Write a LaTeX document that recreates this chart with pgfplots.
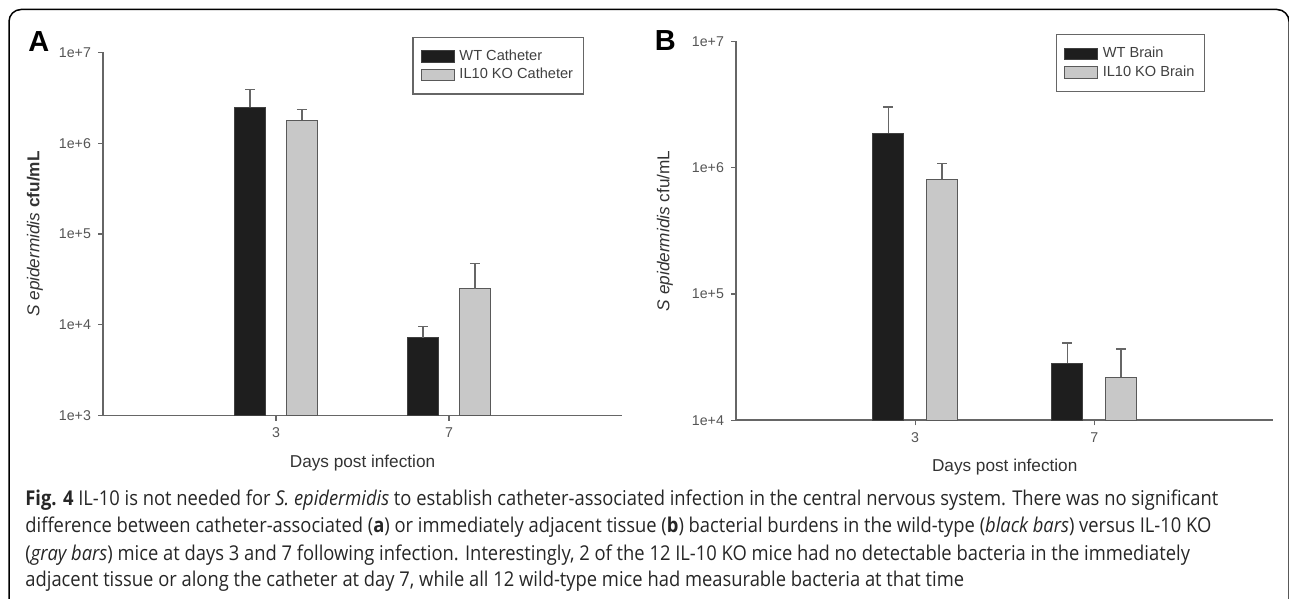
\documentclass[border=0pt]{standalone}
\usepackage{fontspec}
\setmainfont{Liberation Sans}
\newfontfamily\capfont{Open Sans}[FakeStretch=0.9]
\usepackage{pgfplots}
\pgfplotsset{compat=1.18}

\definecolor{barblack}{HTML}{1E1E1E}
\definecolor{bargray}{HTML}{C8C8C8}
\definecolor{axgray}{HTML}{666666}
\definecolor{txtgray}{HTML}{555555}

\pgfplotsset{
  barleg/.style={legend image code/.code={\draw[##1] (0pt,-2.8pt) rectangle (16.5pt,2.8pt);}},
  errs/.style={error bars/y dir=plus, error bars/y explicit,
    error bars/error bar style={axgray, line width=0.75pt},
    error bars/error mark options={rotate=90, axgray, line width=0.75pt, mark size=2.5pt}},
  wtbar/.style={ybar, bar width=15.5pt, bar shift=0pt, fill=barblack, draw=black!75, line width=0.5pt, barleg, errs},
  kobar/.style={ybar, bar width=15.5pt, bar shift=0pt, fill=bargray, draw=black!65, line width=0.5pt, barleg, errs},
}

\begin{document}
\begin{tikzpicture}
\useasboundingbox (0,0) rectangle (644.5pt,299.5pt);
\draw[line width=0.75pt, rounded corners=6pt] (4.5pt,0pt) -- (4.5pt,294.75pt) -- (644.5pt,294.75pt) -- (644.5pt,0pt);

% panel A: catheter (day 3 at x=0, day 7 at x=1)
\begin{axis}[at={(51.5pt,91.65pt)}, anchor=south west,
  scale only axis, width=259.5pt, height=181.6pt,
  xmin=-1, xmax=2, ymode=log, log origin y=infty,
  ymin=1e3, ymax=1e7,
  axis x line*=bottom, axis y line*=left,
  axis line style={axgray, line width=0.8pt},
  tick style={axgray, line width=0.6pt},
  tick align=outside, major tick length=2.5pt,
  yminorticks=false,
  xtick={0,1}, xticklabels={3,7},
  ytick={1e3,1e4,1e5,1e6,1e7}, yticklabels={1e+3,1e+4,1e+5,1e+6,1e+7},
  ticklabel style={font=\fontsize{7.1}{8}\selectfont, text=txtgray},
  label style={font=\fontsize{8.6}{10}\selectfont, text=black!80},
  xlabel={Days post infection},
  xlabel style={at={(axis description cs:0.5,0)}, anchor=center, yshift=-23.5pt},
  ylabel={\textit{S epidermidis} \textbf{cfu/mL}},
  ylabel style={at={(axis description cs:0,0.5)}, anchor=center, yshift=34pt},
  legend cell align=left,
  legend style={at={(axis description cs:0.5963,1.0435)}, anchor=north west,
    draw=axgray, line width=0.6pt, font=\fontsize{7.3}{8}\selectfont, text=black!75,
    inner xsep=4pt, inner ysep=5pt, column sep=1pt,
    nodes={inner sep=1.2pt, text depth=0.15em}}]
\addplot[wtbar] coordinates {(-0.15,2490000) +- (0,1430000) (0.85,7200) +- (0,2400)};
\addlegendentry{WT Catheter}
\addplot[kobar] coordinates {(0.15,1790000) +- (0,570000) (1.15,24900) +- (0,22800)};
\addlegendentry{IL10 KO Catheter}
\end{axis}

% panel B: brain
\begin{axis}[at={(368pt,89.35pt)}, anchor=south west,
  scale only axis, width=268.7pt, height=189.45pt,
  xmin=-1, xmax=2, ymode=log, log origin y=infty,
  ymin=1e4, ymax=1e7,
  axis x line*=bottom, axis y line*=left,
  axis line style={axgray, line width=0.8pt},
  tick style={axgray, line width=0.6pt},
  tick align=outside, major tick length=2.5pt,
  yminorticks=false,
  xtick={0,1}, xticklabels={3,7},
  ytick={1e4,1e5,1e6,1e7}, yticklabels={1e+4,1e+5,1e+6,1e+7},
  ticklabel style={font=\fontsize{7.1}{8}\selectfont, text=txtgray},
  label style={font=\fontsize{8.6}{10}\selectfont, text=black!80},
  xlabel={Days post infection},
  xlabel style={at={(axis description cs:0.5,0)}, anchor=center, yshift=-23.5pt},
  ylabel={\textit{S epidermidis} cfu/mL},
  ylabel style={at={(axis description cs:0,0.5)}, anchor=center, yshift=35.5pt},
  legend cell align=left,
  legend style={at={(axis description cs:0.595,1.0187)}, anchor=north west,
    draw=axgray, line width=0.6pt, font=\fontsize{7.3}{8}\selectfont, text=black!75,
    inner xsep=4pt, inner ysep=5pt, column sep=1pt,
    nodes={inner sep=1.2pt, text depth=0.15em}}]
\addplot[wtbar] coordinates {(-0.15,1880000) +- (0,1150000) (0.85,28300) +- (0,12500)};
\addlegendentry{WT Brain}
\addplot[kobar] coordinates {(0.15,807000) +- (0,273000) (1.15,22000) +- (0,14600)};
\addlegendentry{IL10 KO Brain}
\end{axis}

\node[anchor=base west, inner sep=0, font=\bfseries\fontsize{14.5}{16}\selectfont] at (14pt,273.5pt) {A};
\node[anchor=base west, inner sep=0, font=\bfseries\fontsize{14.5}{16}\selectfont] at (327.25pt,274pt) {B};

\begin{scope}[every node/.style={anchor=base west, inner sep=0, font=\capfont\fontsize{10.2}{12}\selectfont, text=black!85}]
\node at (12.5pt,46.5pt) {\textbf{Fig. 4} IL-10 is not needed for \textit{S. epidermidis} to establish catheter-associated infection in the central nervous system. There was no significant};
\node at (12.5pt,33pt) {difference between catheter-associated (\textbf{a}) or immediately adjacent tissue (\textbf{b}) bacterial burdens in the wild-type (\textit{black bars}) versus IL-10 KO};
\node at (12.5pt,19.5pt) {(\textit{gray bars}) mice at days 3 and 7 following infection. Interestingly, 2 of the 12 IL-10 KO mice had no detectable bacteria in the immediately};
\node at (12.5pt,6pt) {adjacent tissue or along the catheter at day 7, while all 12 wild-type mice had measurable bacteria at that time};
\end{scope}
\end{tikzpicture}
\end{document}
